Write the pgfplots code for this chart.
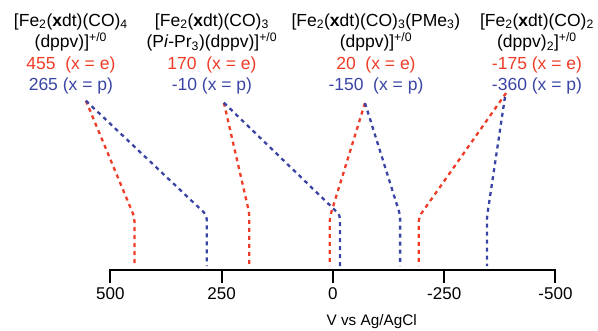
\documentclass[border=0pt]{standalone}
\usepackage{fontspec}
\setmainfont{Liberation Sans}
\usepackage{pgfplots}
\pgfplotsset{compat=1.18}
\definecolor{myred}{RGB}{238,60,40}
\definecolor{myblue}{RGB}{58,68,165}
\begin{document}
\begin{tikzpicture}
\begin{axis}[
  x=0.445pt, y=1pt,
  xmin=-500, xmax=500, ymin=0, ymax=170,
  x dir=reverse,
  axis x line=bottom, axis y line=none,
  x axis line style={-, line width=2pt, line cap=rect},
  xtick={500,250,0,-250,-500},
  xticklabels={500,250,0,-250,-500},
  major tick length=13pt, tick align=outside,
  tick style={line width=2pt, black},
  xticklabel style={font=\fontsize{17}{17}\selectfont, yshift=-1pt},
  clip=false,
]
\pgfplotsset{dl/.style={line width=2.3pt, dash pattern=on 4pt off 4pt, rounded corners=4pt}}
\addplot[myred, dl] coordinates {(555,169.3) (446,53) (446,4)};
\addplot[myblue, dl] coordinates {(555,169.3) (283.6,55) (283.6,4)};
\addplot[myred, dl] coordinates {(245,167.3) (188,57) (188,4)};
\addplot[myblue, dl] coordinates {(245,167.3) (-16,55) (-16,4)};
\addplot[myred, dl] coordinates {(-72,167) (7,53) (7,4)};
\addplot[myblue, dl] coordinates {(-72,167) (-151,55) (-151,4)};
\addplot[myred, dl] coordinates {(-389,177) (-193,53) (-193,4)};
\addplot[myblue, dl] coordinates {(-386.5,173) (-346,53) (-346,4)};
\coordinate (bl) at (axis cs:748,-60);
\coordinate (tr) at (axis cs:-595.5,270);
\tikzset{lab/.style={anchor=base, inner sep=0pt, font=\fontsize{17.5}{21}\selectfont}}
% group 1
\node[lab] at (axis cs:588.8,244) {[Fe\textsubscript{2}(\textbf{x}dt)(CO)\textsubscript{4}};
\node[lab] at (axis cs:588.8,222.5) {(dppv)]\textsuperscript{+/0}};
\node[lab, text=myred] at (axis cs:588.8,201) {455~ (x = e)};
\node[lab, text=myblue] at (axis cs:588.8,179.5) {265 (x = p)};
% group 2
\node[lab] at (axis cs:271.9,244) {[Fe\textsubscript{2}(\textbf{x}dt)(CO)\textsubscript{3}};
\node[lab] at (axis cs:271.9,222.5) {(P\textit{i}-Pr\textsubscript{3})(dppv)]\textsuperscript{+/0}};
\node[lab, text=myred] at (axis cs:271.9,201) {170~ (x = e)};
\node[lab, text=myblue] at (axis cs:271.9,179.5) {-10 (x = p)};
% group 3
\node[lab] at (axis cs:-96.6,244) {[Fe\textsubscript{2}(\textbf{x}dt)(CO)\textsubscript{3}(PMe\textsubscript{3})};
\node[lab] at (axis cs:-96.6,222.5) {(dppv)]\textsuperscript{+/0}};
\node[lab, text=myred] at (axis cs:-96.6,201) {20~ (x = e)};
\node[lab, text=myblue] at (axis cs:-96.6,179.5) {-150~ (x = p)};
% group 4
\node[lab] at (axis cs:-458.4,244) {[Fe\textsubscript{2}(\textbf{x}dt)(CO)\textsubscript{2}};
\node[lab] at (axis cs:-458.4,222.5) {(dppv)\textsubscript{2}]\textsuperscript{+/0}};
\node[lab, text=myred] at (axis cs:-458.4,201) {-175 (x = e)};
\node[lab, text=myblue] at (axis cs:-458.4,179.5) {-360 (x = p)};
% axis label
\node[anchor=base, inner sep=0pt, font=\fontsize{15.3}{16}\selectfont] at (axis cs:-87,-55.5) {V vs Ag/AgCl};
\end{axis}
\pgfresetboundingbox
\useasboundingbox (bl) rectangle (tr);
\end{tikzpicture}
\end{document}
